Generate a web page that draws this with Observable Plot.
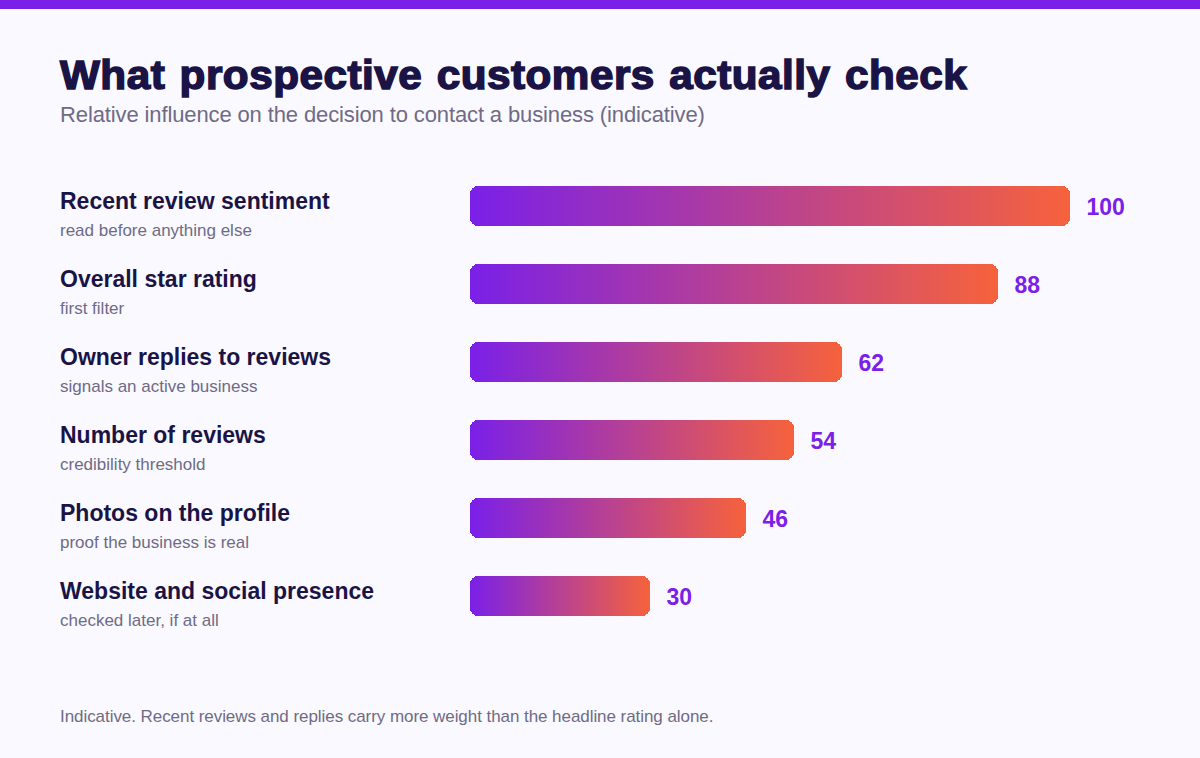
<!DOCTYPE html>
<html><head><meta charset="utf-8">
<script src="https://cdn.jsdelivr.net/npm/d3@7"></script>
<script src="https://cdn.jsdelivr.net/npm/@observablehq/plot@0.6"></script>
<style>
html,body{margin:0;padding:0;background:#faf9ff;width:1200px;height:758px;overflow:hidden;font-family:"Liberation Sans",Arial,sans-serif;text-rendering:optimizeSpeed}
#bar{height:9px;background:#7a20e8}
h1{position:absolute;left:60px;top:51px;margin:0;font-size:40px;line-height:48px;font-weight:700;color:#1a1446;letter-spacing:0.5px;word-spacing:2px;-webkit-text-stroke:1.5px #1a1446;white-space:nowrap;transform:scaleX(1.055);transform-origin:0 50%}
#sub{position:absolute;left:60px;top:101px;font-size:22px;line-height:28px;letter-spacing:-0.12px;color:#6f6b85;white-space:nowrap}
#chart{position:absolute;left:0;top:140px}
#chart svg{display:block;background:transparent}
#chart text{text-rendering:optimizeSpeed}
#foot{position:absolute;left:60px;top:706px;font-size:17px;line-height:22px;letter-spacing:-0.06px;color:#6f6b85;white-space:nowrap}
</style></head>
<body>
<div id="bar"></div>
<h1>What prospective customers actually check</h1>
<div id="sub">Relative influence on the decision to contact a business (indicative)</div>
<div id="chart"></div>
<div id="foot">Indicative. Recent reviews and replies carry more weight than the headline rating alone.</div>
<script>
const names = ["Recent review sentiment","Overall star rating","Owner replies to reviews","Number of reviews","Photos on the profile","Website and social presence"];
const notes = ["read before anything else","first filter","signals an active business","credibility threshold","proof the business is real","checked later, if at all"];
const values = [100,88,62,54,46,30];
const rows = names.map((name,i)=>({name,note:notes[i],value:values[i]}));

const defs = () => {
  const s = d3.create("svg:defs");
  const g = s.append("linearGradient").attr("id","barGrad").attr("x1","0").attr("x2","1").attr("y1","0").attr("y2","0");
  g.append("stop").attr("offset","0").attr("stop-color","#7a20e8");
  g.append("stop").attr("offset","1").attr("stop-color","#f6623c");
  return s.node();
};

const plot = Plot.plot({
  width:1200,height:540,
  marginLeft:470,marginRight:130,marginTop:8,marginBottom:26,
  style:{background:"transparent",fontFamily:"'Liberation Sans',Arial,sans-serif"},
  x:{domain:[0,100],axis:null},
  y:{domain:names,axis:null,padding:38/78,label:null},
  marks:[
    defs,
    Plot.barX(rows,{x:"value",y:"name",fill:"url(#barGrad)",rx:8,shapeRendering:"crispEdges"}),
    Plot.text(rows,{x:"value",y:"name",text:d=>String(d.value),textAnchor:"start",dx:16,dy:1,fontSize:23,fontWeight:700,fill:"#7a20e8"}),
    Plot.text(rows,{x:0,y:"name",text:"name",textAnchor:"start",dx:-410.5,dy:-5,fontSize:23,fontWeight:700,fill:"#1a1446"}),
    Plot.text(rows,{x:0,y:"name",text:"note",textAnchor:"start",dx:-410.5,dy:24,fontSize:17,fill:"#6f6b85"})
  ]
});
document.getElementById("chart").appendChild(plot);
</script>
</body></html>
